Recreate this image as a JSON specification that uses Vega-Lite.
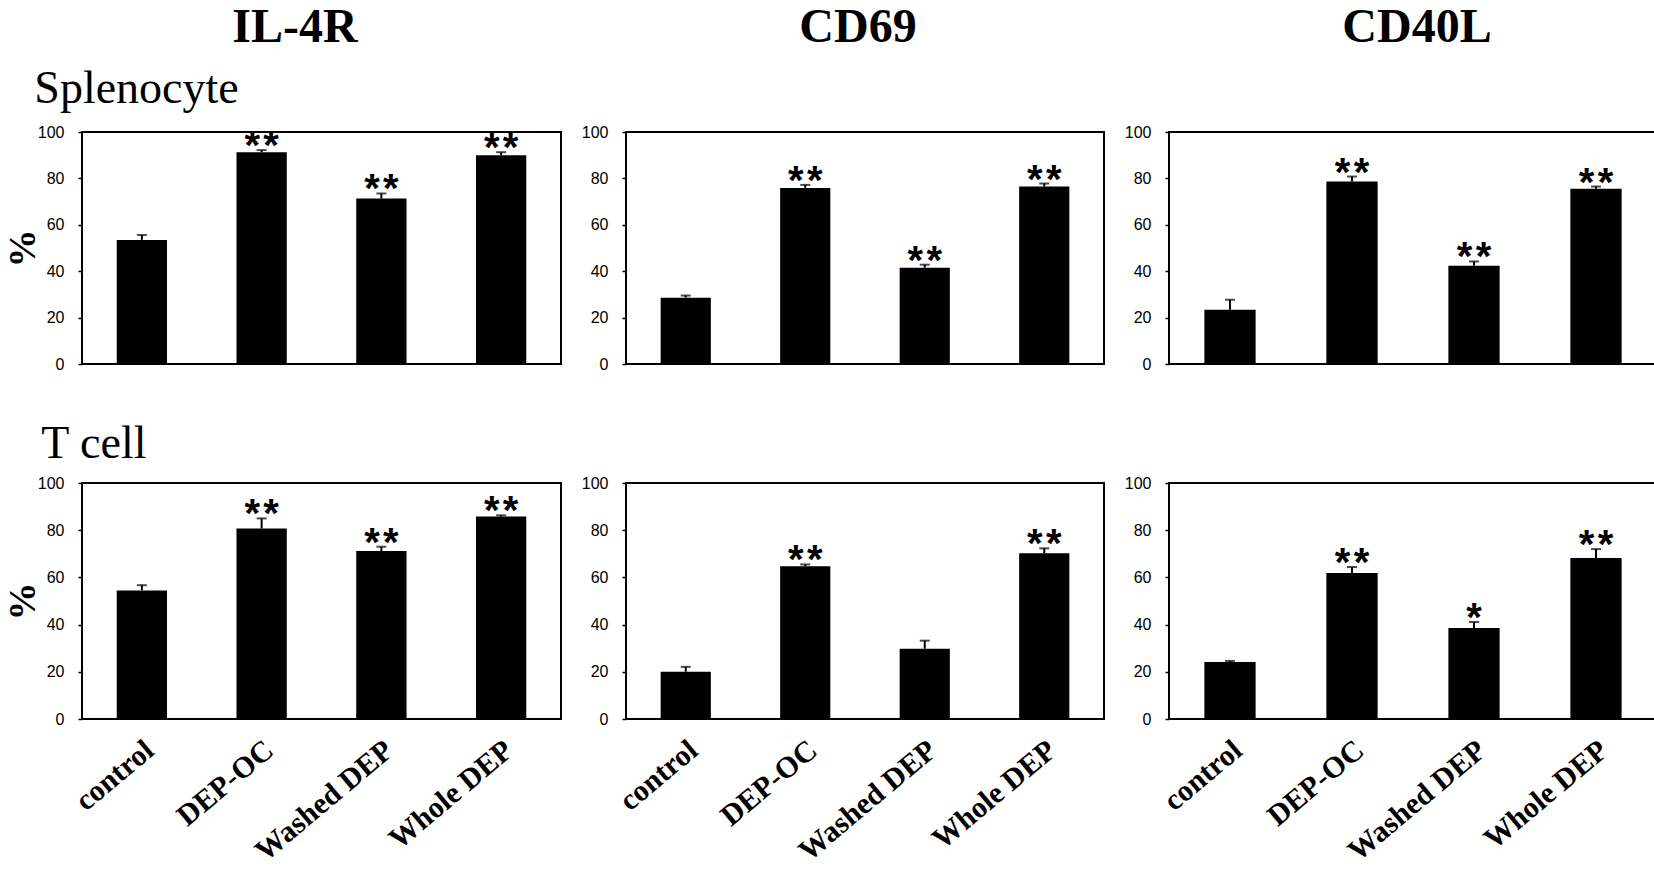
{
  "$schema": "https://vega.github.io/schema/vega-lite/v6.json",
  "padding": {"left": 3, "top": 3, "right": 0, "bottom": 0},
  "background": "white",
  "config": {
    "view": {"stroke": "black", "strokeWidth": 2},
    "axis": {"grid": false, "labelColor": "black", "tickColor": "black", "titleColor": "black"},
    "title": {"color": "black"}
  },
  "datasets": {
    "bars": [
      {"marker": "IL-4R", "cell": "Splenocyte", "group": "control", "value": 53.5, "hi": 55.6, "sig": ""},
      {"marker": "IL-4R", "cell": "Splenocyte", "group": "DEP-OC", "value": 91.3, "hi": 92.2, "sig": "*\u200a*"},
      {"marker": "IL-4R", "cell": "Splenocyte", "group": "Washed DEP", "value": 71.3, "hi": 73.5, "sig": "*\u200a*"},
      {"marker": "IL-4R", "cell": "Splenocyte", "group": "Whole DEP", "value": 90.0, "hi": 91.3, "sig": "*\u200a*"},
      {"marker": "CD69", "cell": "Splenocyte", "group": "control", "value": 28.6, "hi": 29.5, "sig": ""},
      {"marker": "CD69", "cell": "Splenocyte", "group": "DEP-OC", "value": 75.9, "hi": 77.2, "sig": "*\u200a*"},
      {"marker": "CD69", "cell": "Splenocyte", "group": "Washed DEP", "value": 41.5, "hi": 42.8, "sig": "*\u200a*"},
      {"marker": "CD69", "cell": "Splenocyte", "group": "Whole DEP", "value": 76.5, "hi": 77.8, "sig": "*\u200a*"},
      {"marker": "CD40L", "cell": "Splenocyte", "group": "control", "value": 23.4, "hi": 27.7, "sig": ""},
      {"marker": "CD40L", "cell": "Splenocyte", "group": "DEP-OC", "value": 78.7, "hi": 80.8, "sig": "*\u200a*"},
      {"marker": "CD40L", "cell": "Splenocyte", "group": "Washed DEP", "value": 42.4, "hi": 44.2, "sig": "*\u200a*"},
      {"marker": "CD40L", "cell": "Splenocyte", "group": "Whole DEP", "value": 75.5, "hi": 76.5, "sig": "*\u200a*"},
      {"marker": "IL-4R", "cell": "T cell", "group": "control", "value": 54.5, "hi": 56.7, "sig": ""},
      {"marker": "IL-4R", "cell": "T cell", "group": "DEP-OC", "value": 80.7, "hi": 85.0, "sig": "*\u200a*"},
      {"marker": "IL-4R", "cell": "T cell", "group": "Washed DEP", "value": 71.2, "hi": 73.0, "sig": "*\u200a*"},
      {"marker": "IL-4R", "cell": "T cell", "group": "Whole DEP", "value": 85.8, "hi": 86.3, "sig": "*\u200a*"},
      {"marker": "CD69", "cell": "T cell", "group": "control", "value": 20.0, "hi": 22.1, "sig": ""},
      {"marker": "CD69", "cell": "T cell", "group": "DEP-OC", "value": 64.7, "hi": 65.5, "sig": "*\u200a*"},
      {"marker": "CD69", "cell": "T cell", "group": "Washed DEP", "value": 29.8, "hi": 33.2, "sig": ""},
      {"marker": "CD69", "cell": "T cell", "group": "Whole DEP", "value": 70.2, "hi": 72.3, "sig": "*\u200a*"},
      {"marker": "CD40L", "cell": "T cell", "group": "control", "value": 24.1, "hi": 24.6, "sig": ""},
      {"marker": "CD40L", "cell": "T cell", "group": "DEP-OC", "value": 61.9, "hi": 64.4, "sig": "*\u200a*"},
      {"marker": "CD40L", "cell": "T cell", "group": "Washed DEP", "value": 38.6, "hi": 41.1, "sig": "*"},
      {"marker": "CD40L", "cell": "T cell", "group": "Whole DEP", "value": 68.2, "hi": 72.0, "sig": "*\u200a*"}
    ]
  },
  "spacing": 48,
  "vconcat": [
    {
      "spacing": 3,
      "vconcat": [
        {
          "spacing": 20,
          "hconcat": [
            {"width": 554, "height": 1, "view": {"stroke": null}, "title": {"text": "IL-4R", "font": "Liberation Serif", "fontSize": 48, "fontWeight": "bold", "offset": 0, "dx": -64}, "data": {"values": [{}]}, "mark": "text", "encoding": {}},
            {"width": 572, "height": 1, "view": {"stroke": null}, "title": {"text": "CD69", "font": "Liberation Serif", "fontSize": 48, "fontWeight": "bold", "offset": 0, "dx": -84}, "data": {"values": [{}]}, "mark": "text", "encoding": {}},
            {"width": 488, "height": 1, "view": {"stroke": null}, "title": {"text": "CD40L", "font": "Liberation Serif", "fontSize": 48, "fontWeight": "bold", "offset": 0, "dx": -75}, "data": {"values": [{}]}, "mark": "text", "encoding": {}}
          ]
        },
        {
          "title": {"text": "Splenocyte", "anchor": "start", "frame": "bounds", "font": "Liberation Serif", "fontSize": 46, "fontWeight": "normal", "offset": 10, "dx": 31},
          "spacing": 18,
          "hconcat": [
            {
              "width": 479, "height": 232,
              "data": {"name": "bars"},
              "transform": [{"filter": "datum.marker === 'IL-4R' && datum.cell === 'Splenocyte'"}],
              "encoding": {"x": {"field": "group", "type": "nominal", "sort": ["control", "DEP-OC", "Washed DEP", "Whole DEP"], "scale": {"paddingInner": 0.58, "paddingOuter": 0.29}, "axis": null}},
              "layer": [
                {"mark": {"type": "bar", "color": "black"}, "encoding": {"y": {"field": "value", "type": "quantitative", "scale": {"domain": [0, 100], "nice": false}, "axis": {"values": [0, 20, 40, 60, 80, 100], "title": "%", "titleFont": "Liberation Serif", "titleFontSize": 38, "titleFontWeight": "bold", "titlePadding": -5, "labelFont": "Liberation Sans", "labelFontSize": 16, "tickSize": 4, "tickWidth": 1.5, "labelPadding": 14, "domain": false}}}},
                {"mark": {"type": "rule", "color": "black", "strokeWidth": 2}, "encoding": {"y": {"field": "value", "type": "quantitative"}, "y2": {"field": "hi"}}},
                {"mark": {"type": "tick", "color": "black", "thickness": 2, "size": 10}, "encoding": {"y": {"field": "hi", "type": "quantitative"}}},
                {"mark": {"type": "text", "font": "Liberation Sans", "fontSize": 40, "fontWeight": "bold", "baseline": "alphabetic", "dy": 9, "color": "black"}, "encoding": {"y": {"field": "hi", "type": "quantitative"}, "text": {"field": "sig"}}}
              ]
            },
            {
              "width": 478, "height": 232,
              "data": {"name": "bars"},
              "transform": [{"filter": "datum.marker === 'CD69' && datum.cell === 'Splenocyte'"}],
              "encoding": {"x": {"field": "group", "type": "nominal", "sort": ["control", "DEP-OC", "Washed DEP", "Whole DEP"], "scale": {"paddingInner": 0.58, "paddingOuter": 0.29}, "axis": null}},
              "layer": [
                {"mark": {"type": "bar", "color": "black"}, "encoding": {"y": {"field": "value", "type": "quantitative", "scale": {"domain": [0, 100], "nice": false}, "axis": {"values": [0, 20, 40, 60, 80, 100], "title": null, "labelFont": "Liberation Sans", "labelFontSize": 16, "tickSize": 4, "tickWidth": 1.5, "labelPadding": 14, "domain": false}}}},
                {"mark": {"type": "rule", "color": "black", "strokeWidth": 2}, "encoding": {"y": {"field": "value", "type": "quantitative"}, "y2": {"field": "hi"}}},
                {"mark": {"type": "tick", "color": "black", "thickness": 2, "size": 10}, "encoding": {"y": {"field": "hi", "type": "quantitative"}}},
                {"mark": {"type": "text", "font": "Liberation Sans", "fontSize": 40, "fontWeight": "bold", "baseline": "alphabetic", "dy": 9, "color": "black"}, "encoding": {"y": {"field": "hi", "type": "quantitative"}, "text": {"field": "sig"}}}
              ]
            },
            {
              "width": 488, "height": 232,
              "data": {"name": "bars"},
              "transform": [{"filter": "datum.marker === 'CD40L' && datum.cell === 'Splenocyte'"}],
              "encoding": {"x": {"field": "group", "type": "nominal", "sort": ["control", "DEP-OC", "Washed DEP", "Whole DEP"], "scale": {"paddingInner": 0.58, "paddingOuter": 0.29}, "axis": null}},
              "layer": [
                {"mark": {"type": "bar", "color": "black"}, "encoding": {"y": {"field": "value", "type": "quantitative", "scale": {"domain": [0, 100], "nice": false}, "axis": {"values": [0, 20, 40, 60, 80, 100], "title": null, "labelFont": "Liberation Sans", "labelFontSize": 16, "tickSize": 4, "tickWidth": 1.5, "labelPadding": 14, "domain": false}}}},
                {"mark": {"type": "rule", "color": "black", "strokeWidth": 2}, "encoding": {"y": {"field": "value", "type": "quantitative"}, "y2": {"field": "hi"}}},
                {"mark": {"type": "tick", "color": "black", "thickness": 2, "size": 10}, "encoding": {"y": {"field": "hi", "type": "quantitative"}}},
                {"mark": {"type": "text", "font": "Liberation Sans", "fontSize": 40, "fontWeight": "bold", "baseline": "alphabetic", "dy": 9, "color": "black"}, "encoding": {"y": {"field": "hi", "type": "quantitative"}, "text": {"field": "sig"}}}
              ]
            }
          ]
        }
      ]
    },
    {
      "title": {"text": "T cell", "anchor": "start", "frame": "bounds", "font": "Liberation Serif", "fontSize": 46, "fontWeight": "normal", "offset": 6, "dx": 38},
      "spacing": 18,
      "hconcat": [
        {
          "width": 479, "height": 236,
          "data": {"name": "bars"},
          "transform": [{"filter": "datum.marker === 'IL-4R' && datum.cell === 'T cell'"}],
          "encoding": {"x": {"field": "group", "type": "nominal", "sort": ["control", "DEP-OC", "Washed DEP", "Whole DEP"], "scale": {"paddingInner": 0.58, "paddingOuter": 0.29}, "axis": {"title": null, "labelAngle": -40, "labelAlign": "right", "labelBaseline": "middle", "labelFont": "Liberation Serif", "labelFontSize": 30, "labelFontWeight": "bold", "labelPadding": 27, "labelOffset": 8, "labelLimit": 0, "ticks": false, "domain": false}}},
          "layer": [
            {"mark": {"type": "bar", "color": "black"}, "encoding": {"y": {"field": "value", "type": "quantitative", "scale": {"domain": [0, 100], "nice": false}, "axis": {"values": [0, 20, 40, 60, 80, 100], "title": "%", "titleFont": "Liberation Serif", "titleFontSize": 38, "titleFontWeight": "bold", "titlePadding": -5, "labelFont": "Liberation Sans", "labelFontSize": 16, "tickSize": 4, "tickWidth": 1.5, "labelPadding": 14, "domain": false}}}},
            {"mark": {"type": "rule", "color": "black", "strokeWidth": 2}, "encoding": {"y": {"field": "value", "type": "quantitative"}, "y2": {"field": "hi"}}},
            {"mark": {"type": "tick", "color": "black", "thickness": 2, "size": 10}, "encoding": {"y": {"field": "hi", "type": "quantitative"}}},
            {"mark": {"type": "text", "font": "Liberation Sans", "fontSize": 40, "fontWeight": "bold", "baseline": "alphabetic", "dy": 9, "color": "black"}, "encoding": {"y": {"field": "hi", "type": "quantitative"}, "text": {"field": "sig"}}}
          ]
        },
        {
          "width": 478, "height": 236,
          "data": {"name": "bars"},
          "transform": [{"filter": "datum.marker === 'CD69' && datum.cell === 'T cell'"}],
          "encoding": {"x": {"field": "group", "type": "nominal", "sort": ["control", "DEP-OC", "Washed DEP", "Whole DEP"], "scale": {"paddingInner": 0.58, "paddingOuter": 0.29}, "axis": {"title": null, "labelAngle": -40, "labelAlign": "right", "labelBaseline": "middle", "labelFont": "Liberation Serif", "labelFontSize": 30, "labelFontWeight": "bold", "labelPadding": 27, "labelOffset": 8, "labelLimit": 0, "ticks": false, "domain": false}}},
          "layer": [
            {"mark": {"type": "bar", "color": "black"}, "encoding": {"y": {"field": "value", "type": "quantitative", "scale": {"domain": [0, 100], "nice": false}, "axis": {"values": [0, 20, 40, 60, 80, 100], "title": null, "labelFont": "Liberation Sans", "labelFontSize": 16, "tickSize": 4, "tickWidth": 1.5, "labelPadding": 14, "domain": false}}}},
            {"mark": {"type": "rule", "color": "black", "strokeWidth": 2}, "encoding": {"y": {"field": "value", "type": "quantitative"}, "y2": {"field": "hi"}}},
            {"mark": {"type": "tick", "color": "black", "thickness": 2, "size": 10}, "encoding": {"y": {"field": "hi", "type": "quantitative"}}},
            {"mark": {"type": "text", "font": "Liberation Sans", "fontSize": 40, "fontWeight": "bold", "baseline": "alphabetic", "dy": 9, "color": "black"}, "encoding": {"y": {"field": "hi", "type": "quantitative"}, "text": {"field": "sig"}}}
          ]
        },
        {
          "width": 488, "height": 236,
          "data": {"name": "bars"},
          "transform": [{"filter": "datum.marker === 'CD40L' && datum.cell === 'T cell'"}],
          "encoding": {"x": {"field": "group", "type": "nominal", "sort": ["control", "DEP-OC", "Washed DEP", "Whole DEP"], "scale": {"paddingInner": 0.58, "paddingOuter": 0.29}, "axis": {"title": null, "labelAngle": -40, "labelAlign": "right", "labelBaseline": "middle", "labelFont": "Liberation Serif", "labelFontSize": 30, "labelFontWeight": "bold", "labelPadding": 27, "labelOffset": 8, "labelLimit": 0, "ticks": false, "domain": false}}},
          "layer": [
            {"mark": {"type": "bar", "color": "black"}, "encoding": {"y": {"field": "value", "type": "quantitative", "scale": {"domain": [0, 100], "nice": false}, "axis": {"values": [0, 20, 40, 60, 80, 100], "title": null, "labelFont": "Liberation Sans", "labelFontSize": 16, "tickSize": 4, "tickWidth": 1.5, "labelPadding": 14, "domain": false}}}},
            {"mark": {"type": "rule", "color": "black", "strokeWidth": 2}, "encoding": {"y": {"field": "value", "type": "quantitative"}, "y2": {"field": "hi"}}},
            {"mark": {"type": "tick", "color": "black", "thickness": 2, "size": 10}, "encoding": {"y": {"field": "hi", "type": "quantitative"}}},
            {"mark": {"type": "text", "font": "Liberation Sans", "fontSize": 40, "fontWeight": "bold", "baseline": "alphabetic", "dy": 9, "color": "black"}, "encoding": {"y": {"field": "hi", "type": "quantitative"}, "text": {"field": "sig"}}}
          ]
        }
      ]
    }
  ]
}
